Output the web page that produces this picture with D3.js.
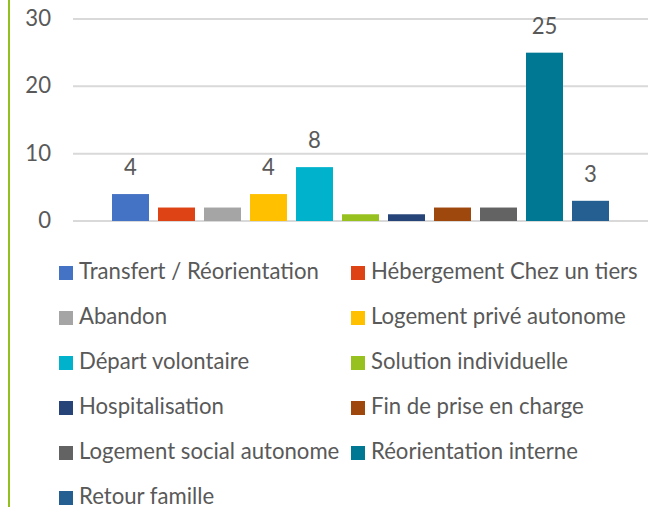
<!DOCTYPE html>
<html>
<head>
	<meta charset="utf-8">
	<title>Sorties</title>
	<script src="https://d3js.org/d3.v7.min.js"></script>
	<style>
		body { margin: 0; background: #fff; }
		text { font-family: Lato, "Open Sans", sans-serif; fill: #595959; }
	</style>
</head>
<body>
	<div id="chart"></div>

	<script>
		// Data
		const categories = [
			"Transfert / Réorientation", "Hébergement Chez un tiers", "Abandon",
			"Logement privé autonome", "Départ volontaire", "Solution individuelle",
			"Hospitalisation", "Fin de prise en charge", "Logement social autonome",
			"Réorientation interne", "Retour famille"
		];
		const values = [4, 2, 2, 4, 8, 1, 1, 2, 2, 25, 3];
		const showLabel = [true, false, false, true, true, false, false, false, false, true, true];
		const colors = [
			"#4472C4", "#DE4316", "#A5A5A5", "#FFC000", "#00B2CC", "#96C11F",
			"#264478", "#9E480E", "#636363", "#007893", "#255E91"
		];
		const yTicks = [0, 10, 20, 30];

		const W = 659, H = 507;
		const svg = d3.select("#chart").append("svg")
			.attr("width", W).attr("height", H);

		// pick a font size so the legend text width matches the original
		const probe = svg.append("text").attr("font-size", 20).text(categories[0]);
		const fs = 20 * 240 / probe.node().getComputedTextLength();
		probe.remove();

		// green left rule
		svg.append("rect")
			.attr("x", 8).attr("y", 0).attr("width", 2).attr("height", H)
			.attr("fill", "#93C01F");

		const x = d3.scaleBand()
			.domain(categories)
			.range([73, 648])
			.paddingInner(0.196)
			.paddingOuter(0.848);
		const y = d3.scaleLinear()
			.domain([0, 30])
			.range([221, 19]);

		// gridlines
		svg.append("g").selectAll("line")
			.data(yTicks)
			.join("line")
			.attr("x1", 73).attr("x2", 648)
			.attr("y1", d => y(d)).attr("y2", d => y(d))
			.attr("stroke", "#D9D9D9").attr("stroke-width", 2);

		// y axis labels
		svg.append("g").selectAll("text")
			.data(yTicks)
			.join("text")
			.attr("x", 51).attr("y", d => y(d) + 7)
			.attr("text-anchor", "end")
			.attr("font-size", fs)
			.text(d => d);

		// bars
		svg.append("g").selectAll("rect")
			.data(values)
			.join("rect")
			.attr("x", (d, i) => x(categories[i]))
			.attr("y", d => y(d))
			.attr("width", x.bandwidth())
			.attr("height", d => y(0) - y(d))
			.attr("fill", (d, i) => colors[i]);

		// data labels
		svg.append("g").selectAll("text")
			.data(values.map((v, i) => ({ v, i })).filter(d => showLabel[d.i]))
			.join("text")
			.attr("x", d => x(categories[d.i]) + x.bandwidth() / 2)
			.attr("y", d => y(d.v) - 19)
			.attr("text-anchor", "middle")
			.attr("font-size", fs)
			.text(d => d.v);

		// legend, two columns
		const legend = svg.append("g").selectAll("g")
			.data(categories)
			.join("g")
			.attr("transform", (d, i) => `translate(${i % 2 ? 351 : 59},${279 + Math.floor(i / 2) * 45})`);
		legend.append("rect")
			.attr("x", 0).attr("y", -13)
			.attr("width", 14).attr("height", 14)
			.attr("fill", (d, i) => colors[i]);
		legend.append("text")
			.attr("x", 20).attr("y", 0)
			.attr("font-size", fs)
			.text(d => d);
	</script>
</body>
</html>
